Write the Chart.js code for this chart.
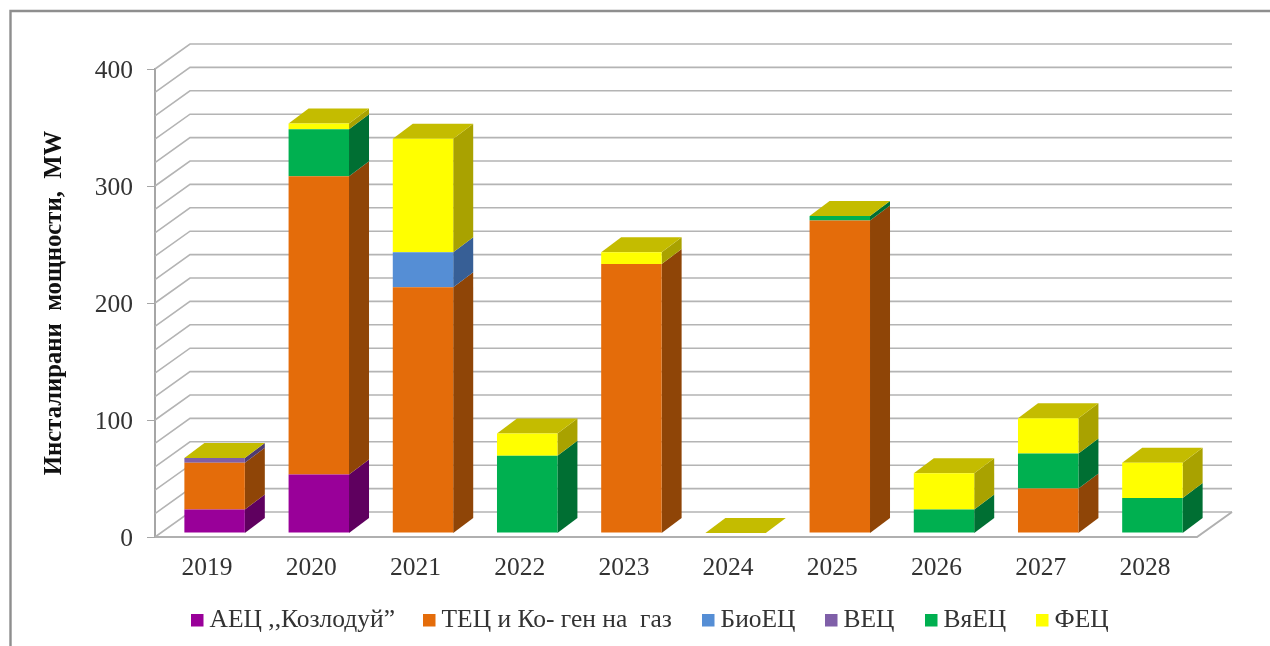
<!DOCTYPE html>
<html><head><meta charset="utf-8">
<style>
html,body{margin:0;padding:0;background:#fff;width:1270px;height:646px;overflow:hidden}
#wrap{position:absolute;left:0;top:0;width:1270px;height:646px}
canvas{filter:blur(0.55px)}
</style>
<script src="https://cdn.jsdelivr.net/npm/chart.js@4"></script>
</head><body><div id="wrap"><canvas id="c" width="1270" height="646"></canvas></div>
<script>
const categories=['2019','2020','2021','2022','2023','2024','2025','2026','2027','2028'];
const seriesNames=['АЕЦ ,,Козлодуй”','ТЕЦ и Ко- ген на  газ','БиоЕЦ','ВЕЦ','ВяЕЦ','ФЕЦ'];
const aec=[20,50,0,0,0,0,0,0,0,0];
const tec=[40,255,210,0,230,0,267,0,38,0];
const bio=[0,0,30,0,0,0,0,0,0,0];
const vec=[4,0,0,0,0,0,0,0,0,0];
const vyec=[0,40,0,66,0,0,4,20,30,30];
const fec=[0,5,97,19,10,0,0,31,30,30];
const seriesValues=[aec,tec,bio,vec,vyec,fec];
const frontColors=['#990099','#E46C0A','#558ED5','#7F5FA8','#00B050','#FFFF00'];
const sideColors=['#5F005F','#8F4507','#375F96','#4F3B70','#006F33','#A9A200'];
const capColor='#C4BC00';
const DX=20,DY=15,OX=7.5,OY=-4,WX=35,WY=25;
const legendLefts=[191,423,702,825,925,1036];
const axisTitle='Инсталирани  мощности,  MW';
const font='"Liberation Serif","Times New Roman",serif';

const scene={id:'scene',
 beforeDraw(chart){
  const {ctx}=chart;
  ctx.save();
  ctx.strokeStyle='#8E8E8E';ctx.lineWidth=2.4;
  ctx.beginPath();ctx.moveTo(10.5,646);ctx.lineTo(10.5,11);ctx.lineTo(1270,11);ctx.stroke();
  ctx.restore();
 },
 beforeDatasetsDraw(chart){
  const {ctx,scales:{x,y}}=chart;
  ctx.save();
  const left=x.left,right=x.right;
  y.ticks.forEach(t=>{
    const py=y.getPixelForValue(t.value);
    ctx.strokeStyle='#B4B4B4';ctx.lineWidth=1.6;
    ctx.beginPath();ctx.moveTo(left,py);ctx.lineTo(left+WX,py-WY);ctx.lineTo(right+WX,py-WY);ctx.stroke();
  });
  const y0=y.getPixelForValue(0);
  ctx.strokeStyle='#B0B0B0';ctx.lineWidth=2;
  ctx.beginPath();ctx.moveTo(left,y0);ctx.lineTo(right,y0);ctx.lineTo(right+WX,y0-WY);ctx.stroke();
  ctx.translate(OX,OY);
  categories.forEach((c,i)=>{
    const m=chart.getDatasetMeta(0).data[i];
    const xr=m.x+m.width/2, xl=m.x-m.width/2;
    let sum=0;
    seriesValues.forEach((vals,s)=>{
      if(!vals[i])return;
      const a=y.getPixelForValue(sum), b=y.getPixelForValue(sum+vals[i]);
      sum+=vals[i];
      ctx.fillStyle=sideColors[s];
      ctx.beginPath();ctx.moveTo(xr,a);ctx.lineTo(xr+DX,a-DY);ctx.lineTo(xr+DX,b-DY);ctx.lineTo(xr,b);ctx.closePath();ctx.fill();
    });
    const t=y.getPixelForValue(sum);
    ctx.fillStyle=capColor;
    ctx.beginPath();ctx.moveTo(xl,t);ctx.lineTo(xr,t);ctx.lineTo(xr+DX,t-DY);ctx.lineTo(xl+DX,t-DY);ctx.closePath();ctx.fill();
  });
  ctx.restore();
  ctx.save();
  ctx.translate(OX,OY);
 },
 afterDatasetsDraw(chart){chart.ctx.restore();},
 afterDraw(chart){
  const {ctx}=chart;
  ctx.save();
  ctx.font='25.5px '+font;ctx.textBaseline='middle';ctx.textAlign='left';
  seriesNames.forEach((n,s)=>{
    const px=legendLefts[s];
    ctx.fillStyle=frontColors[s];ctx.fillRect(px,614,12.5,12.5);
    ctx.fillStyle='#333';ctx.fillText(n,px+18.5,620);
  });
  ctx.restore();
 }
};
new Chart(document.getElementById('c'),{
 type:'bar',
 data:{labels:categories,datasets:seriesNames.map((n,s)=>({label:n,data:seriesValues[s],backgroundColor:frontColors[s],borderWidth:0,categoryPercentage:1,barPercentage:0.58,clip:false}))},
 plugins:[scene],
 options:{responsive:false,animation:false,
  layout:{padding:{left:40,right:73,top:69,bottom:0}},
  plugins:{tooltip:{enabled:false},legend:{display:false}},
  scales:{
   x:{stacked:true,grid:{display:false},border:{display:false},afterFit(s){s.height=109;},
      ticks:{color:'#333',font:{family:font,size:25.5},padding:7.5,maxRotation:0}},
   y:{stacked:true,min:0,max:400,afterFit(s){s.width=115;},
      border:{display:true,color:'#A6A6A6',width:2},
      grid:{display:true,drawOnChartArea:false,drawTicks:true,tickLength:8,tickColor:ctx=>ctx.tick.value%100===0?'#A6A6A6':'rgba(0,0,0,0)'},
      ticks:{stepSize:20,autoSkip:false,color:'#333',font:{family:font,size:25.5},padding:14,labelOffset:2,callback:v=>v%100===0?String(v):''},
      title:{display:true,text:axisTitle,color:'#111',font:{family:font,size:24.7,weight:'bold'},padding:{top:0,bottom:8}}}
  }}
});
</script></body></html>
